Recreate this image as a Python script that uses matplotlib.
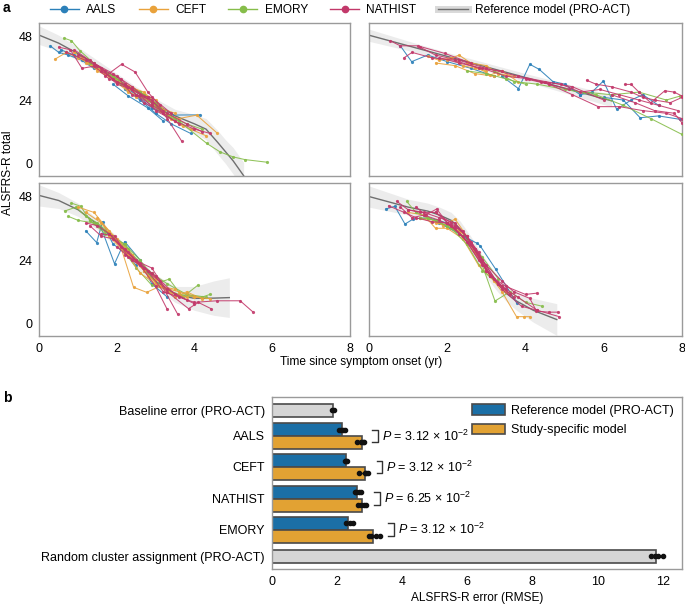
import matplotlib
matplotlib.use("Agg")
import matplotlib.pyplot as plt
from matplotlib.lines import Line2D
from matplotlib.patches import Patch

FS = 8.6
plt.rcParams['font.family'] = ['Liberation Sans', 'DejaVu Sans']
plt.rcParams['mathtext.fontset'] = 'custom'
plt.rcParams['mathtext.rm'] = 'Liberation Sans'
plt.rcParams['mathtext.it'] = 'Liberation Sans:italic'

# ---------------- data: panel a ----------------
studies = ["AALS", "CEFT", "EMORY", "NATHIST"]
study_colors = ["#2b80b9", "#e9a23b", "#86bd4a", "#c2386a"]

# cluster 1 (top-left)
c1_study = ["AALS", "AALS", "AALS", "AALS", "AALS",
            "CEFT", "CEFT", "CEFT", "CEFT", "CEFT", "CEFT", "CEFT", "CEFT",
            "EMORY", "EMORY", "EMORY", "EMORY", "EMORY",
            "NATHIST", "NATHIST", "NATHIST", "NATHIST", "NATHIST", "NATHIST", "NATHIST",
            "NATHIST", "NATHIST", "NATHIST"]
c1_t = [[0.28, 0.5, 0.75, 1.1, 1.4], [1.2, 1.6, 2.0, 2.5, 2.9, 3.3, 4.15],
        [2.2, 2.6, 3.0, 3.4, 3.9], [0.55, 0.9, 1.3, 1.7], [1.9, 2.3, 2.8, 3.2],
        [0.4, 0.7, 1.0, 1.4, 1.8], [1.5, 1.9, 2.3, 2.7, 3.1],
        [2.0, 2.4, 2.8, 3.2, 3.6, 4.06, 4.58], [1.1, 1.5, 1.9, 2.3, 2.8, 3.3, 3.7],
        [2.6, 3.0, 3.5, 3.9, 4.3], [0.9, 1.3, 1.7, 2.1, 2.5],
        [1.2, 1.5, 1.8, 2.2, 2.6, 3.0, 3.4], [2.3, 2.7, 3.1, 3.5],
        [0.64, 0.83, 1.05, 1.4, 1.8, 2.2], [2.5, 3.0, 3.6, 4.32, 4.66, 5.0, 5.3, 5.87],
        [1.3, 1.7, 2.1, 2.6, 3.0], [2.9, 3.3, 3.8, 4.2], [1.9, 2.3, 2.7, 3.1, 3.5],
        [0.5, 0.8, 1.1, 1.5, 1.9], [1.7, 2.12, 2.47, 2.8, 3.1],
        [1.0, 1.3, 1.7, 2.1, 2.5, 2.9, 3.3, 3.67], [2.2, 2.6, 3.0, 3.5, 4.0, 4.4],
        [1.4, 1.8, 2.3, 2.7, 3.2, 3.6], [0.7, 1.2, 1.6, 2.0, 2.4], [2.0, 2.4, 2.9, 3.4],
        [1.6, 2.0, 2.4, 2.8, 3.2], [0.9, 1.4, 1.9, 2.4, 2.9], [2.5, 2.9, 3.3, 3.8, 4.2]]
c1_y = [[44.5, 42, 41, 39, 36], [39, 35, 31, 26, 21, 18.3, 18.4],
        [28, 24, 19, 15, 11.4], [43, 41, 38, 34], [30, 25.5, 21, 16],
        [39.4, 42, 40, 37, 33], [36, 33, 28, 26, 20],
        [31, 29, 25, 19, 17, 18.3, 11.6], [40, 35, 32, 27, 24, 18, 14],
        [27, 23, 16, 13, 10.5], [42, 38, 34, 30, 25],
        [38, 36, 34, 30, 27, 24, 17], [29, 27, 21, 19],
        [47.4, 46.4, 42.6, 38, 34, 30], [26, 22, 16, 7.6, 4.4, 2.5, 1.5, 0.5],
        [38, 35, 30, 27, 23], [22, 18, 15, 13], [33, 29, 26, 21, 17],
        [44, 43, 36, 37, 32], [33, 37.5, 34.6, 27, 22],
        [41, 39, 35, 32, 26, 24, 17, 8.5], [30, 26, 20, 16, 13, 11.4],
        [37, 32, 29, 23, 19, 15], [42, 39, 36, 30, 28], [33, 26, 25, 19],
        [35, 31, 28, 25, 20], [43, 38, 34, 29, 23], [26, 22, 19, 15, 12]]

# cluster 2 (top-right)
c2_study = ["AALS", "AALS", "AALS", "AALS",
            "CEFT", "CEFT", "CEFT", "CEFT",
            "EMORY", "EMORY", "EMORY",
            "NATHIST", "NATHIST", "NATHIST", "NATHIST", "NATHIST", "NATHIST", "NATHIST", "NATHIST", "NATHIST"]
c2_t = [[0.8, 1.09, 1.5, 2.0, 2.6, 3.2], [3.4, 3.82, 4.11, 4.35, 4.7, 5.0, 5.4],
        [5.4, 5.7, 5.99, 6.33, 6.7, 7.0, 7.4], [6.0, 6.5, 6.93, 7.4, 7.95],
        [1.5, 1.8, 2.1, 2.4, 2.7, 3.0], [2.0, 2.3, 2.6, 3.0, 3.3, 3.7],
        [2.5, 2.8, 3.1, 3.4, 3.8], [1.7, 2.2, 2.7, 3.2],
        [3.2, 3.7, 4.3, 5.0, 5.8, 6.5, 7.2, 8.0], [5.5, 6.2, 6.9, 7.6, 7.95], [2.5, 3.0, 3.5, 4.0],
        [0.54, 0.8, 1.24, 1.94, 2.6], [0.9, 1.1, 1.6, 2.2, 2.8, 3.4],
        [1.8, 2.3, 2.9, 3.5, 4.1, 4.6, 5.1], [4.4, 4.9, 5.4, 5.9, 6.4, 6.9, 7.4, 7.9],
        [5.56, 5.8, 6.2, 6.7, 7.0, 7.3, 7.7, 8.0], [6.54, 6.7, 6.9, 7.2, 7.56, 7.8, 8.0],
        [4.0, 4.6, 5.2, 5.86, 6.4, 7.0, 7.6, 8.0], [6.2, 6.8, 7.3, 7.8, 8.0],
        [1.3, 1.7, 2.3, 3.0, 3.8, 4.5, 5.2, 6.0]]
c2_y = [[44.5, 38.5, 41, 38.5, 36, 33], [33, 28.3, 37.5, 35.6, 31, 30, 26],
        [26, 27, 31.2, 20.5, 24, 26, 22], [25, 24, 17.3, 18, 16.7],
        [40.5, 39, 40, 37, 36, 35], [39, 41, 38, 37, 34, 33],
        [38, 36, 33.5, 35, 31], [38, 37, 34, 33],
        [35, 31, 30, 28, 26, 22, 17, 11], [27, 26, 27, 24, 25.5], [35, 34, 32, 30],
        [46.4, 44.5, 44.5, 41.6, 38], [40, 42, 40, 39, 36, 35],
        [40, 38, 36, 33, 32, 30, 28], [31, 30, 27, 28, 26, 24, 22, 20],
        [31.5, 30, 29, 27, 25, 24, 23, 25], [29.9, 29.9, 27, 23, 27.5, 27, 25.5],
        [32, 30, 26, 21.5, 21.5, 20, 19, 17], [26, 23, 20, 19, 15.4],
        [44, 41, 39, 36, 33, 31, 29, 24]]

# cluster 3 (bottom-left)
c3_study = ["AALS", "AALS",
            "EMORY", "EMORY", "EMORY", "EMORY", "EMORY", "EMORY",
            "CEFT", "CEFT", "CEFT", "CEFT", "CEFT",
            "NATHIST", "NATHIST", "NATHIST", "NATHIST", "NATHIST", "NATHIST"]
c3_t = [[1.2, 1.48, 1.63, 1.9, 2.2, 2.5], [1.6, 1.94, 2.2, 2.6, 2.9, 3.3],
        [0.65, 0.95, 1.2, 1.5, 1.9, 2.3], [0.83, 1.07, 1.3, 1.7, 2.2, 2.7, 3.1],
        [0.75, 1.0, 1.4, 1.9, 2.4, 2.9, 3.3, 3.8, 4.3], [2.1, 2.5, 2.9, 3.35, 3.7, 4.09],
        [3.0, 3.3, 3.6, 4.2, 4.4], [1.3, 1.7, 2.2, 2.6, 3.1, 3.6, 4.0],
        [1.0, 1.41, 1.8, 2.2, 2.6, 3.0], [1.5, 1.8, 2.1, 2.43, 2.77, 3.1, 3.5],
        [2.3, 2.7, 3.1, 3.6, 4.0, 4.4], [1.8, 2.2, 2.6, 3.0, 3.5, 3.8, 4.2],
        [1.2, 1.6, 2.0, 2.4, 2.8, 3.3, 3.8],
        [1.2, 1.5, 1.8, 2.2, 2.6, 3.0, 3.29], [1.3, 1.6, 1.9, 2.3, 2.7, 3.1, 3.57],
        [2.0, 2.4, 2.8, 3.2, 3.6, 4.0, 4.58, 5.18, 5.5], [2.2, 2.6, 2.9, 3.3, 3.85, 4.1, 4.43],
        [1.6, 1.95, 2.3, 2.7, 3.0, 3.5, 4.0], [1.8, 2.1, 2.5, 2.9, 3.3, 3.8]]
c3_y = [[35, 30.6, 38.5, 30, 27, 22], [36, 22.6, 31, 24, 15, 10],
        [42.5, 44, 40.5, 38, 33, 28], [45.5, 44.3, 39, 35, 30, 20, 14],
        [40.5, 39, 38, 33, 26, 19, 15, 11, 10], [29, 21, 14.5, 16.8, 10, 14.5],
        [14, 13, 10.5, 10, 11], [39, 34, 30, 24, 14, 11, 10.5],
        [44, 42, 35, 28, 19, 15], [40, 34, 29, 13.7, 11.8, 14, 13],
        [26, 20, 14, 12, 10, 9.4], [33, 27, 22, 17, 10, 12, 9.3],
        [42, 38, 32, 26, 18, 12, 10],
        [38, 37, 34, 28, 22, 14, 5.6], [37, 33, 32, 27, 21, 16, 3.5],
        [29, 24, 20, 12, 10, 8, 8.6, 8.6, 4.5], [26, 23, 21, 12, 5.6, 8, 5.6],
        [34, 33, 25, 21, 18, 11, 7.5], [34, 29, 24, 19, 13, 9]]

# cluster 4 (bottom-right)
c4_study = ["AALS", "AALS",
            "CEFT", "CEFT", "CEFT", "CEFT",
            "EMORY", "EMORY", "EMORY",
            "NATHIST", "NATHIST", "NATHIST", "NATHIST", "NATHIST", "NATHIST", "NATHIST",
            "NATHIST", "NATHIST"]
c4_t = [[0.43, 0.66, 0.92, 1.13, 1.5, 2.0], [1.8, 2.3, 2.75, 2.84, 3.24, 3.77],
        [1.5, 1.9, 2.2, 2.5, 2.8, 3.1, 3.5], [2.3, 2.7, 3.0, 3.4, 3.77, 3.95, 4.11],
        [1.0, 1.4, 1.7, 2.0, 2.4, 2.8, 3.2], [1.3, 1.7, 2.1, 2.5, 2.8, 3.1],
        [0.96, 1.2, 1.5, 2.0, 2.4, 2.9, 3.3], [2.0, 2.4, 2.8, 3.22, 3.6, 4.0, 4.41],
        [1.3, 1.7, 2.1, 2.5, 2.9, 3.4],
        [0.71, 1.0, 1.3, 1.7, 2.1, 2.6, 3.0, 3.4], [0.5, 0.9, 1.2, 1.6, 2.0, 2.4, 2.8, 3.2, 3.6],
        [2.6, 3.0, 3.4, 3.7, 4.11, 4.28, 4.6, 4.84], [1.7, 2.1, 2.5, 2.9, 3.3, 3.8, 4.3, 4.86],
        [1.2, 1.45, 1.73, 2.0, 2.3, 2.7, 3.1, 3.5], [0.8, 1.1, 1.4, 1.8, 2.2, 2.5, 2.9],
        [2.0, 2.4, 2.7, 3.0, 3.4, 3.9, 4.3], [1.0, 1.4, 1.8, 2.2, 2.6, 2.9, 3.3, 3.7],
        [2.2, 2.5, 2.8, 3.1, 3.5, 4.0, 4.3]]
c4_y = [[43.3, 44.3, 37.6, 39.5, 40, 38], [38, 34, 30.4, 29.4, 20.5, 7.9],
        [40, 37, 39.5, 33, 25, 18, 12], [35, 27, 20, 12, 2.6, 2.6, 2.6],
        [42, 41, 36, 36, 32, 22, 16], [40, 38, 37, 33, 25, 18],
        [46.2, 42, 40, 37, 33, 25, 17], [37, 33, 26, 8.5, 12, 8, 6.6],
        [40, 39, 36, 30, 20, 14],
        [46.2, 43, 42, 42, 37, 30, 20, 14], [44.5, 42, 40, 38.5, 38, 33, 24, 17, 11],
        [30, 22, 16, 12, 9.5, 4.7, 4.3, 4.3], [42, 38, 33, 24, 15, 10, 5, 2.6],
        [44, 41, 43.3, 38, 34, 28, 18, 13], [44, 40, 41, 39, 36, 31, 22],
        [38, 35, 28, 20, 13, 6.5, 5], [43, 42, 40, 38, 31, 24, 15, 10],
        [37, 33, 27, 18, 14, 11, 11.5]]

# reference model (PRO-ACT) curves and band half-widths
m1_t = [0, 0.5, 1, 1.5, 2, 2.5, 3, 3.5, 4, 4.3, 4.6, 4.8, 5.0, 5.27]
m1_y = [48.5, 45.5, 41.5, 37, 32, 27, 22.5, 18, 15, 13, 8, 4.5, 1, -4.6]
m1_w = [3.5, 3, 2.5, 2, 2, 2, 2, 2.5, 3.5, 4, 4.5, 4.5, 5, 5]
m2_t = [0, 1, 2, 3, 4, 5, 6, 6.2]
m2_y = [48.5, 44.5, 40.5, 36.5, 32.5, 28.5, 24.5, 23.7]
m2_w = [2.3, 1.8, 1.5, 1.5, 1.5, 1.8, 2.2, 2.2]
m3_t = [0, 0.5, 1, 1.5, 2, 2.5, 3, 3.5, 4, 4.5, 4.9]
m3_y = [48.4, 46.5, 43, 37.5, 31, 23.5, 16, 11, 9.5, 9.6, 9.8]
m3_w = [4, 3, 2.5, 2, 2, 2, 2.5, 3, 4.5, 6.5, 7.5]
m4_t = [0, 0.5, 1, 1.5, 1.8, 2.1, 2.33, 2.6, 2.84, 3.05, 3.26, 3.5, 3.77, 4.2, 4.8]
m4_y = [48, 46, 44, 42.5, 41, 39, 35.7, 30, 24.3, 19.5, 15.5, 11.5, 8.5, 5, 1.5]
m4_w = [4, 3.5, 3, 3, 3, 3, 3, 3, 3, 3, 3, 3, 3.5, 4.5, 6]

# ---------------- data: panel b ----------------
bar_labels = ["Baseline error (PRO-ACT)", "AALS", "CEFT", "NATHIST", "EMORY",
              "Random cluster assignment (PRO-ACT)"]
baseline_value = 1.88
baseline_dots = [1.86, 1.90]
pair_studies = ["AALS", "CEFT", "NATHIST", "EMORY"]
ref_values = [2.16, 2.27, 2.61, 2.33]
study_values = [2.76, 2.87, 2.78, 3.10]
ref_dots = [[2.08, 2.12, 2.18, 2.24], [2.24, 2.27, 2.30], [2.55, 2.60, 2.68, 2.75], [2.28, 2.40, 2.50]]
study_dots = [[2.62, 2.75, 2.80, 2.82], [2.68, 2.85, 2.90, 2.96], [2.65, 2.75, 2.82, 2.88],
              [2.98, 3.05, 3.20, 3.32]]
random_value = 11.79
random_dots = [11.65, 11.75, 11.85, 12.0]
p_mantissa = ["3.12", "3.12", "6.25", "3.12"]
p_exponent = [-2, -2, -2, -2]

# ---------------- figure ----------------
W, H = 685, 605
fig = plt.figure(figsize=(W / 100, H / 100), dpi=100)


def ax_px(l, t, r, b):
    return fig.add_axes([l / W, 1 - b / H, (r - l) / W, (b - t) / H])


axs = [ax_px(39.3, 23.3, 349.5, 175.7), ax_px(369, 23.3, 682, 175.7),
       ax_px(39.3, 183.3, 349.5, 335.7), ax_px(369, 183.3, 682, 335.7)]

clusters = [(c1_study, c1_t, c1_y, m1_t, m1_y, m1_w),
            (c2_study, c2_t, c2_y, m2_t, m2_y, m2_w),
            (c3_study, c3_t, c3_y, m3_t, m3_y, m3_w),
            (c4_study, c4_t, c4_y, m4_t, m4_y, m4_w)]

spine_c = "#9a9a9a"
for i, (ax, (cs, ct, cy, mt, my, mw)) in enumerate(zip(axs, clusters)):
    lo = [a - b for a, b in zip(my, mw)]
    hi = [a + b for a, b in zip(my, mw)]
    ax.fill_between(mt, lo, hi, color="#ececec", lw=0, zorder=1)
    ax.plot(mt, my, color="#6f6f6f", lw=1.0, zorder=2)
    for s, tt, yy in zip(cs, ct, cy):
        col = study_colors[studies.index(s)]
        ax.plot(tt, yy, '-o', color=col, lw=0.75, ms=2.3, mew=0, alpha=0.9, zorder=3)
    ax.set_xlim(0, 8)
    ax.set_ylim(-4.6, 53)
    ax.set_xticks([0, 2, 4, 6, 8])
    ax.set_yticks([0, 24, 48])
    ax.tick_params(length=0, labelsize=FS + 0.4, pad=5)
    if i < 2:
        ax.set_xticklabels([])
    if i % 2 == 1:
        ax.set_yticklabels([])
    for sp in ax.spines.values():
        sp.set_color(spine_c)
        sp.set_linewidth(1.0)

fig.text(8 / W, 1 - 173 / H, "ALSFRS-R total", rotation=90, ha="center", va="center", fontsize=FS)
fig.text(361 / W, 1 - 362 / H, "Time since symptom onset (yr)", ha="center", va="center", fontsize=FS)

handles = [Line2D([], [], color=c, marker='o', lw=1.0, ms=4.5) for c in study_colors]
ref_handle = (Line2D([], [], color="#d9d9d9", lw=5), Line2D([], [], color="#6f6f6f", lw=1))
fig.legend(handles + [ref_handle], studies + ["Reference model (PRO-ACT)"], loc="center",
           bbox_to_anchor=(340 / W, 1 - 10 / H), ncol=5, frameon=False, fontsize=FS,
           handlelength=2.45, columnspacing=1.85, handletextpad=0.6)

fig.text(3 / W, 1 - 8 / H, "a", fontsize=10, fontweight="bold", ha="left", va="center")
fig.text(3 / W, 1 - 398 / H, "b", fontsize=10, fontweight="bold", ha="left", va="center")

# ---------------- panel b ----------------
axb = ax_px(271.7, 396.7, 681.7, 569)
blue_bar = "#1b6fa6"
orange_bar = "#e2a233"
gray_bar = "#d5d5d5"
edge = "#4a4a4a"
h = 0.41
pos_single = [0.0, 4.67]
pos_pairs = [0.82, 1.81, 2.83, 3.82]


def dots(ax, vals, y):
    ax.plot([min(vals), max(vals)], [y, y], color="#222222", lw=1.0, zorder=4)
    ax.plot(vals, [y] * len(vals), 'o', color="#111111", ms=3.0, zorder=5)


axb.barh(pos_single[0], baseline_value, height=h, color=gray_bar, edgecolor=edge, lw=1.2, zorder=2)
dots(axb, baseline_dots, pos_single[0])
axb.barh(pos_single[1], random_value, height=h, color=gray_bar, edgecolor=edge, lw=1.2, zorder=2)
dots(axb, random_dots, pos_single[1])
for k, c in enumerate(pos_pairs):
    axb.barh(c - h / 2, ref_values[k], height=h, color=blue_bar, edgecolor=edge, lw=1.2, zorder=2)
    axb.barh(c + h / 2, study_values[k], height=h, color=orange_bar, edgecolor=edge, lw=1.2, zorder=2)
    dots(axb, ref_dots[k], c - h / 2)
    dots(axb, study_dots[k], c + h / 2)
    xb = max(ref_dots[k] + study_dots[k]) + 0.26
    axb.plot([xb, xb + 0.17, xb + 0.17, xb], [c - h / 2, c - h / 2, c + h / 2, c + h / 2],
             color="#333333", lw=1.0, zorder=4)
    axb.text(xb + 0.3, c, r"$\mathit{P}$ = " + p_mantissa[k] + r" × 10$^{" + str(p_exponent[k]).replace("-", "−") + "}$",
             ha="left", va="center", fontsize=FS + 0.4)

axb.set_yticks([pos_single[0]] + pos_pairs + [pos_single[1]])
axb.set_yticklabels(bar_labels)
axb.set_ylim(4.67 + 0.40, -0.435)
axb.set_xlim(0, 12.58)
axb.set_xticks([0, 2, 4, 6, 8, 10, 12])
axb.tick_params(length=0, labelsize=FS + 0.4, pad=5)
axb.set_xlabel("ALSFRS-R error (RMSE)", fontsize=FS, labelpad=3)
for sp in axb.spines.values():
    sp.set_color(spine_c)
    sp.set_linewidth(1.0)

leg_handles = [Patch(facecolor=blue_bar, edgecolor=edge, lw=1.2),
               Patch(facecolor=orange_bar, edgecolor=edge, lw=1.2)]
axb.legend(leg_handles, ["Reference model (PRO-ACT)", "Study-specific model"], loc="upper right",
           frameon=False, fontsize=FS + 0.4, handlelength=2.6, handleheight=0.9, borderaxespad=0.4,
           borderpad=0.2, labelspacing=0.55, handletextpad=0.55)

fig.savefig("out.png", dpi=100)
